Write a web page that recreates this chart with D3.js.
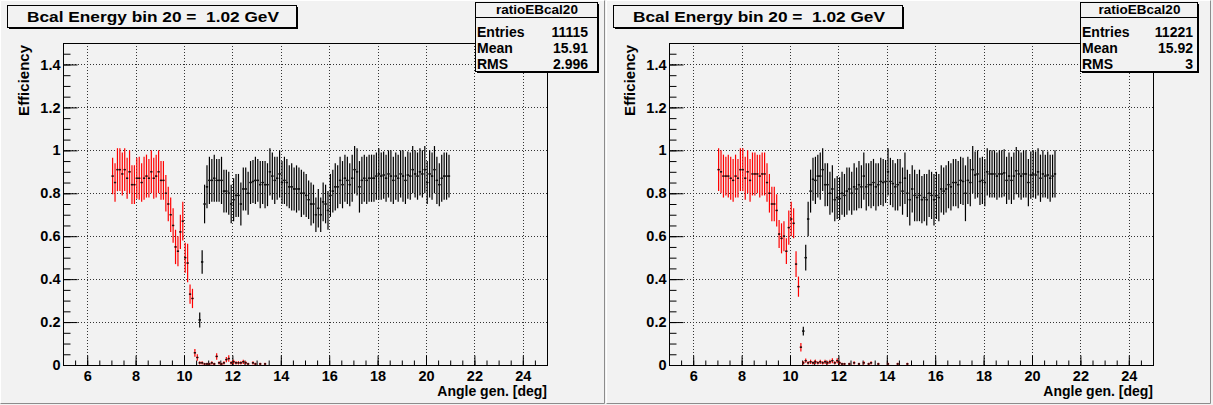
<!DOCTYPE html>
<html>
<head>
<meta charset="utf-8">
<script src="https://cdn.jsdelivr.net/npm/d3@7/dist/d3.min.js"></script>
<style>
  html, body { margin: 0; padding: 0; background: #f2f2f2; }
  svg { display: block; }
  text { font-family: "Liberation Sans", Arial, Helvetica, sans-serif; font-weight: bold; fill: #000; white-space: pre; }
</style>
</head>
<body>
<svg id="canvas" width="1213" height="405"></svg>
<script>
// ---- axes ----
const xDomain = [5, 25];
const yDomain = [0, 1.5];
const xMajorTicks = [6, 8, 10, 12, 14, 16, 18, 20, 22, 24];
const xTickLabels = ["6", "8", "10", "12", "14", "16", "18", "20", "22", "24"];
const yMajorTicks = [0, 0.2, 0.4, 0.6, 0.8, 1.0, 1.2, 1.4];
const yTickLabels = ["0", "0.2", "0.4", "0.6", "0.8", "1", "1.2", "1.4"];
const xTitle = "Angle gen. [deg]";
const yTitle = "Efficiency";
const histTitle = "Bcal Energy bin 20 =  1.02 GeV";
const statsName = "ratioEBcal20";
const statsLabels = ["Entries", "Mean", "RMS"];
const statsLeft = ["11115", "15.91", "2.996"];
const statsRight = ["11221", "15.92", "3"];
const binWidth = 0.1;

// ---- left pad: red histogram (low edge 7.0) ----
const leftRedLow = 7.0;
const leftRedVal = [
  0.88, 0.85, 0.91, 0.91, 0.89, 0.91, 0.87, 0.90, 0.84, 0.84,
  0.87, 0.87, 0.85, 0.87, 0.88, 0.87, 0.90, 0.87, 0.88, 0.90,
  0.86, 0.86, 0.80, 0.75, 0.70, 0.65, 0.55, 0.53, 0.62, 0.67,
  0.50, 0.475, 0.33, 0.31, 0.057, 0.035, 0.01, 0.01, 0.005, 0.005,
  0.005, 0.01, 0.005, 0.04, 0.01, 0.005, 0.01, 0.025, 0.03, 0.01,
  0.015, 0.01, 0.01, 0.01, 0.015, 0.01, 0.005, null, 0.01, 0.005,
  null, 0.005, null, 0.005, null
];
const leftRedErr = [
  0.085, 0.09, 0.10, 0.10, 0.10, 0.10, 0.095, 0.10, 0.09, 0.09,
  0.095, 0.10, 0.09, 0.10, 0.10, 0.09, 0.10, 0.095, 0.10, 0.10,
  0.09, 0.09, 0.085, 0.08, 0.08, 0.08, 0.08, 0.07, 0.08, 0.09,
  0.07, 0.09, 0.045, 0.045, 0.018, 0.015, 0.008, 0.008, 0.005, 0.005,
  0.005, 0.008, 0.005, 0.015, 0.008, 0.005, 0.008, 0.012, 0.015, 0.008,
  0.01, 0.008, 0.008, 0.008, 0.01, 0.008, 0.005, null, 0.008, 0.005,
  null, 0.005, null, 0.005, null
];

// ---- left pad: black histogram (low edge 10.6) ----
const leftBlackLow = 10.6;
const leftBlackVal = [
  0.21, 0.48, 0.75, 0.83, 0.86, 0.86, 0.87, 0.86, 0.86, 0.86,
  0.81, 0.81, 0.80, 0.75, 0.77, 0.79, 0.79, 0.75, 0.82, 0.82,
  0.80, 0.85, 0.855, 0.86, 0.86, 0.84, 0.85, 0.84, 0.84, 0.90,
  0.88, 0.86, 0.87, 0.89, 0.85, 0.86, 0.85, 0.83, 0.83, 0.82,
  0.82, 0.82, 0.80, 0.80, 0.79, 0.77, 0.75, 0.75, 0.70, 0.73,
  0.70, 0.76, 0.75, 0.72, 0.79, 0.81, 0.83, 0.83, 0.86, 0.84,
  0.87, 0.86, 0.84, 0.87, 0.91, 0.90, 0.83, 0.86, 0.87, 0.86,
  0.87, 0.87, 0.87, 0.88, 0.89, 0.88, 0.885, 0.87, 0.89, 0.88,
  0.86, 0.88, 0.87, 0.89, 0.88, 0.86, 0.885, 0.88, 0.91, 0.89,
  0.88, 0.90, 0.89, 0.91, 0.85, 0.89, 0.88, 0.91, 0.86, 0.84,
  0.87, 0.88, 0.88, 0.88
];
const leftBlackErr = [
  0.035, 0.055, 0.09, 0.10, 0.11, 0.10, 0.11, 0.10, 0.10, 0.11,
  0.10, 0.10, 0.10, 0.09, 0.10, 0.10, 0.10, 0.10, 0.10, 0.10,
  0.10, 0.10, 0.10, 0.11, 0.10, 0.11, 0.10, 0.11, 0.10, 0.11,
  0.11, 0.11, 0.10, 0.11, 0.10, 0.11, 0.11, 0.10, 0.11, 0.10,
  0.11, 0.10, 0.11, 0.10, 0.10, 0.09, 0.10, 0.09, 0.08, 0.09,
  0.08, 0.09, 0.09, 0.09, 0.10, 0.10, 0.11, 0.10, 0.11, 0.11,
  0.11, 0.11, 0.10, 0.11, 0.11, 0.11, 0.12, 0.11, 0.11, 0.11,
  0.11, 0.11, 0.11, 0.11, 0.12, 0.11, 0.11, 0.11, 0.11, 0.12,
  0.11, 0.11, 0.11, 0.11, 0.12, 0.11, 0.11, 0.11, 0.11, 0.11,
  0.11, 0.11, 0.11, 0.11, 0.10, 0.11, 0.11, 0.11, 0.11, 0.10,
  0.11, 0.11, 0.11, 0.10
];

// ---- right pad: red histogram (low edge 7.0) ----
const rightRedLow = 7.0;
const rightRedVal = [
  0.91, 0.90, 0.88, 0.88, 0.88, 0.87, 0.86, 0.88, 0.87, 0.91,
  0.91, 0.87, 0.90, 0.86, 0.89, 0.89, 0.89, 0.88, 0.89, 0.89,
  0.85, 0.80, 0.75, 0.75, 0.72, 0.61, 0.59, 0.60, 0.53, 0.64,
  0.68, 0.66, 0.47, 0.365, 0.083, 0.01, 0.02, 0.01, 0.015, 0.01,
  0.015, 0.01, 0.015, 0.01, 0.015, 0.01, 0.015, 0.02, 0.01, 0.02,
  0.01, 0.005, 0.005, null, 0.005, null, 0.01, null, 0.005, null,
  0.01, null, 0.005, 0.01, null, null, 0.005, null, null, null,
  0.005, null, null, null, 0.005, null, null, null, 0.005
];
const rightRedErr = [
  0.10, 0.10, 0.10, 0.09, 0.10, 0.10, 0.10, 0.10, 0.09, 0.10,
  0.10, 0.10, 0.10, 0.10, 0.10, 0.10, 0.09, 0.10, 0.10, 0.10,
  0.09, 0.09, 0.08, 0.08, 0.075, 0.065, 0.07, 0.07, 0.06, 0.08,
  0.08, 0.07, 0.06, 0.047, 0.02, 0.008, 0.01, 0.008, 0.01, 0.008,
  0.01, 0.008, 0.01, 0.008, 0.01, 0.008, 0.01, 0.012, 0.008, 0.012,
  0.008, 0.005, 0.005, null, 0.005, null, 0.008, null, 0.005, null,
  0.008, null, 0.005, 0.008, null, null, 0.005, null, null, null,
  0.005, null, null, null, 0.005, null, null, null, 0.005
];

// ---- right pad: black histogram (low edge 10.5) ----
const rightBlackLow = 10.5;
const rightBlackVal = [
  0.158, 0.50, 0.68, 0.81, 0.865, 0.86, 0.88, 0.88, 0.91, 0.84,
  0.84, 0.80, 0.82, 0.77, 0.78, 0.775, 0.80, 0.79, 0.81, 0.82,
  0.80, 0.83, 0.82, 0.84, 0.83, 0.88, 0.83, 0.84, 0.84, 0.85,
  0.83, 0.84, 0.855, 0.85, 0.855, 0.90, 0.855, 0.845, 0.83, 0.84,
  0.85, 0.81, 0.87, 0.80, 0.77, 0.82, 0.79, 0.78, 0.79, 0.77,
  0.78, 0.77, 0.80, 0.79, 0.77, 0.79, 0.78, 0.82, 0.81, 0.82,
  0.84, 0.83, 0.85, 0.85, 0.84, 0.86, 0.855, 0.80, 0.86, 0.85,
  0.91, 0.885, 0.89, 0.855, 0.86, 0.85, 0.90, 0.89, 0.89, 0.89,
  0.88, 0.89, 0.89, 0.895, 0.86, 0.88, 0.86, 0.88, 0.905, 0.89,
  0.88, 0.89, 0.89, 0.85, 0.885, 0.89, 0.885, 0.90, 0.87, 0.89,
  0.88, 0.885, 0.87, 0.88, 0.89
];
const rightBlackErr = [
  0.02, 0.06, 0.08, 0.10, 0.10, 0.11, 0.10, 0.11, 0.10, 0.10,
  0.10, 0.10, 0.11, 0.10, 0.10, 0.10, 0.10, 0.10, 0.11, 0.10,
  0.10, 0.11, 0.10, 0.11, 0.10, 0.11, 0.11, 0.10, 0.11, 0.11,
  0.11, 0.10, 0.11, 0.11, 0.10, 0.11, 0.11, 0.11, 0.11, 0.12,
  0.11, 0.11, 0.12, 0.11, 0.12, 0.11, 0.12, 0.11, 0.12, 0.11,
  0.11, 0.12, 0.11, 0.11, 0.12, 0.11, 0.11, 0.11, 0.11, 0.11,
  0.11, 0.11, 0.11, 0.11, 0.11, 0.11, 0.11, 0.13, 0.11, 0.11,
  0.11, 0.11, 0.11, 0.11, 0.11, 0.11, 0.11, 0.11, 0.11, 0.11,
  0.11, 0.11, 0.11, 0.11, 0.11, 0.11, 0.11, 0.11, 0.11, 0.11,
  0.11, 0.11, 0.11, 0.11, 0.11, 0.11, 0.11, 0.11, 0.11, 0.11,
  0.10, 0.11, 0.11, 0.10, 0.11
];

// ---- drawing ----
const svg = d3.select("#canvas");
const PAD_W = 604, PAD_H = 403;

const pads = [
  {
    ox: 0, clipId: "clipL", stats: statsLeft, statBox: [475, 597], valueRight: 588,
    series: [
      { low: leftRedLow, val: leftRedVal, err: leftRedErr, color: "#ff0000" },
      { low: leftBlackLow, val: leftBlackVal, err: leftBlackErr, color: "#000000" }
    ]
  },
  {
    ox: 606, clipId: "clipR", stats: statsRight, statBox: [474, 591], valueRight: 587,
    series: [
      { low: rightRedLow, val: rightRedVal, err: rightRedErr, color: "#ff0000" },
      { low: rightBlackLow, val: rightBlackVal, err: rightBlackErr, color: "#000000" }
    ]
  }
];

function minorTicks(lo, hi, step) {
  const out = [];
  const n = Math.round((hi - lo) / step);
  for (let i = 0; i <= n; i++) out.push(+(lo + i * step).toFixed(6));
  return out;
}

function drawPad(p) {
  const g = svg.append("g").attr("transform", `translate(${p.ox},0)`);

  // pad background with bevelled border
  g.append("rect").attr("x", 0).attr("y", 0).attr("width", PAD_W + 2).attr("height", PAD_H + 2)
    .attr("fill", "#f2f2f2");
  g.append("path").attr("d", `M0.5,${PAD_H + 0.5} V0.5 H${PAD_W + 0.5}`)
    .attr("fill", "none").attr("stroke", "#ffffff");
  g.append("path").attr("d", `M0.5,${PAD_H + 0.5} H${PAD_W + 0.5} V0.5`)
    .attr("fill", "none").attr("stroke", "#8c8c8c");

  const fx0 = 63, fx1 = 547, fy0 = 43, fy1 = 365;
  const x = d3.scaleLinear().domain(xDomain).range([fx0, fx1]);
  const y = d3.scaleLinear().domain(yDomain).range([fy1, fy0]);

  // grid
  const grid = g.append("g").attr("stroke", "#333").attr("stroke-width", 1)
    .attr("stroke-dasharray", "1,2");
  grid.selectAll("line.gx").data(xMajorTicks).join("line").attr("class", "gx")
    .attr("x1", d => Math.round(x(d)) + 0.5).attr("x2", d => Math.round(x(d)) + 0.5)
    .attr("y1", fy0).attr("y2", fy1);
  grid.selectAll("line.gy").data(yMajorTicks.filter(d => d > 0)).join("line").attr("class", "gy")
    .attr("y1", d => Math.round(y(d)) + 0.5).attr("y2", d => Math.round(y(d)) + 0.5)
    .attr("x1", fx0).attr("x2", fx1);

  // x axis: minor then major ticks pointing into the frame
  const xMinor = d3.axisBottom(x).tickValues(minorTicks(5, 25, 0.5)).tickSize(-5).tickFormat("");
  const xMajor = d3.axisBottom(x).tickValues(xMajorTicks).tickSize(-10).tickPadding(5)
    .tickFormat((d, i) => xTickLabels[i]);
  [xMinor, xMajor].forEach(ax => {
    const a = g.append("g").attr("transform", `translate(0,${fy1 + 0.5})`).call(ax);
    a.select(".domain").remove();
    a.selectAll("line").attr("stroke", "#000");
    a.selectAll("text").style("font-size", "14.5px").attr("fill", "#000");
  });

  // y axis
  const yMinor = d3.axisLeft(y).tickValues(minorTicks(0, 1.5, 0.05)).tickSize(-7).tickFormat("");
  const yMajor = d3.axisLeft(y).tickValues(yMajorTicks).tickSize(-14).tickPadding(3)
    .tickFormat((d, i) => yTickLabels[i]);
  [yMinor, yMajor].forEach(ax => {
    const a = g.append("g").attr("transform", `translate(${fx0 + 0.5},0)`).call(ax);
    a.select(".domain").remove();
    a.selectAll("line").attr("stroke", "#000");
    a.selectAll("text").style("font-size", "14.5px").attr("fill", "#000");
  });

  // data, clipped to the frame
  g.append("clipPath").attr("id", p.clipId).append("rect")
    .attr("x", fx0).attr("y", fy0).attr("width", fx1 - fx0).attr("height", fy1 - fy0);
  const plot = g.append("g").attr("clip-path", `url(#${p.clipId})`);

  p.series.forEach(s => {
    const bins = s.val.map((v, i) => ({
      lo: s.low + i * binWidth, v: v, e: s.err[i]
    })).filter(b => b.v !== null);
    const sg = plot.append("g");
    // vertical error bars
    sg.selectAll("line.ey").data(bins).join("line").attr("class", "ey")
      .attr("x1", b => x(b.lo + binWidth / 2)).attr("x2", b => x(b.lo + binWidth / 2))
      .attr("y1", b => y(b.v - b.e)).attr("y2", b => y(b.v + b.e))
      .attr("stroke", s.color).attr("stroke-width", 1.2);
    // horizontal bin-width bars
    sg.selectAll("line.ex").data(bins).join("line").attr("class", "ex")
      .attr("x1", b => x(b.lo)).attr("x2", b => x(b.lo + binWidth))
      .attr("y1", b => y(b.v)).attr("y2", b => y(b.v))
      .attr("stroke", s.color).attr("stroke-width", 1);
    // markers
    sg.selectAll("rect.mk").data(bins).join("rect").attr("class", "mk")
      .attr("x", b => x(b.lo + binWidth / 2) - 1).attr("y", b => y(b.v) - 0.75)
      .attr("width", 2).attr("height", 1.5).attr("fill", "#111");
  });

  // frame
  g.append("rect").attr("x", fx0 + 0.5).attr("y", fy0 + 0.5)
    .attr("width", fx1 - fx0).attr("height", fy1 - fy0)
    .attr("fill", "none").attr("stroke", "#000").attr("stroke-width", 1);

  // axis titles
  g.append("text").attr("x", fx1).attr("y", 396).attr("text-anchor", "end")
    .style("font-size", "14px").text(xTitle);
  g.append("text").attr("transform", `translate(28.5,${fy0 + 2}) rotate(-90)`)
    .attr("text-anchor", "end").style("font-size", "15px").text(yTitle);

  // title box with shadow
  const tb = { x: 7, y: 5, w: 289, h: 22 };
  g.append("rect").attr("x", tb.x + 2).attr("y", tb.y + 2).attr("width", tb.w).attr("height", tb.h)
    .attr("fill", "#000");
  g.append("rect").attr("x", tb.x + 0.5).attr("y", tb.y + 0.5).attr("width", tb.w).attr("height", tb.h)
    .attr("fill", "#f2f2f2").attr("stroke", "#000").attr("stroke-width", 1);
  g.append("text").attr("x", 27).attr("y", 21.5)
    .attr("textLength", 252).attr("lengthAdjust", "spacingAndGlyphs")
    .style("font-size", "15.5px").text(histTitle);

  // statistics box with shadow
  const [sx0, sx1] = p.statBox;
  const sy0 = 2, sy1 = 71;
  g.append("rect").attr("x", sx0 + 2).attr("y", sy0 + 2).attr("width", sx1 - sx0).attr("height", sy1 - sy0)
    .attr("fill", "#000");
  g.append("rect").attr("x", sx0 + 0.5).attr("y", sy0 + 0.5).attr("width", sx1 - sx0).attr("height", sy1 - sy0)
    .attr("fill", "#f2f2f2").attr("stroke", "#000").attr("stroke-width", 1);
  g.append("line").attr("x1", sx0).attr("x2", sx1).attr("y1", 17.5).attr("y2", 17.5)
    .attr("stroke", "#000");
  g.append("text").attr("x", (sx0 + sx1) / 2 + 1).attr("y", 13.5).attr("text-anchor", "middle")
    .style("font-size", "13.5px").text(statsName);
  statsLabels.forEach((lab, i) => {
    const by = 36.5 + i * 16;
    g.append("text").attr("x", sx0 + 2).attr("y", by).style("font-size", "14px").text(lab);
    g.append("text").attr("x", p.valueRight).attr("y", by).attr("text-anchor", "end")
      .style("font-size", "14px").text(p.stats[i]);
  });
}

pads.forEach(drawPad);
</script>
</body>
</html>
